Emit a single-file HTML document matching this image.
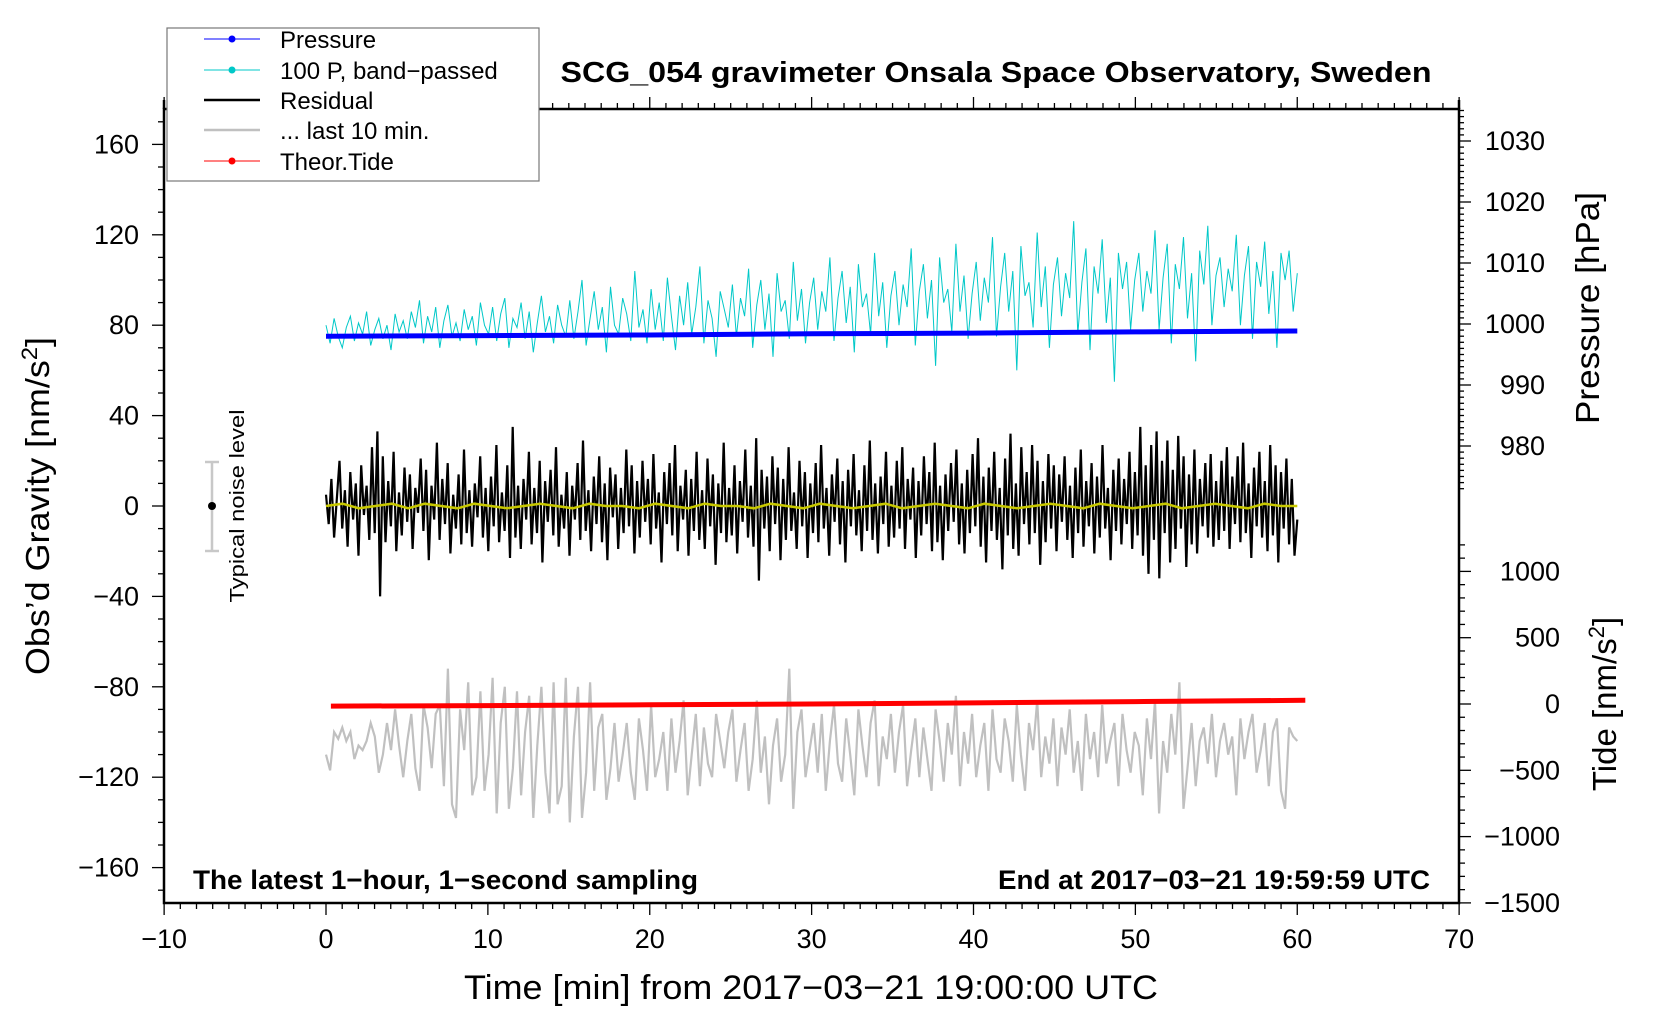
<!DOCTYPE html>
<html><head><meta charset="utf-8"><style>
html,body{margin:0;padding:0;background:#fff;}
svg{display:block;font-family:"Liberation Sans",Arial,sans-serif;}
</style></head><body>
<svg id="chart" width="1660" height="1020" viewBox="0 0 1660 1020" xmlns="http://www.w3.org/2000/svg">
<rect x="0" y="0" width="1660" height="1020" fill="#fff"/>
<g id="plot"></g>
<g id="axes"></g>
<text x="996" y="82" text-anchor="middle" font-size="29" font-weight="bold" textLength="871" lengthAdjust="spacingAndGlyphs">SCG_054 gravimeter Onsala Space Observatory, Sweden</text>
<text transform="translate(49,506) rotate(-90)" text-anchor="middle" font-size="33" textLength="338" lengthAdjust="spacingAndGlyphs">Obs’d Gravity [nm/s<tspan font-size="22" dy="-12">2</tspan><tspan dy="12">]</tspan></text>
<text transform="translate(1599,308) rotate(-90)" text-anchor="middle" font-size="33" textLength="232" lengthAdjust="spacingAndGlyphs">Pressure [hPa]</text>
<text transform="translate(1616,704) rotate(-90)" text-anchor="middle" font-size="33">Tide [nm/s<tspan font-size="22" dy="-12">2</tspan><tspan dy="12">]</tspan></text>
<text x="811" y="999" text-anchor="middle" font-size="34" textLength="694" lengthAdjust="spacingAndGlyphs">Time [min] from 2017−03−21 19:00:00 UTC</text>
<text x="193" y="889" font-size="27" font-weight="bold" textLength="505" lengthAdjust="spacingAndGlyphs">The latest 1−hour, 1−second sampling</text>
<text x="998" y="889" font-size="27" font-weight="bold" textLength="432" lengthAdjust="spacingAndGlyphs">End at 2017−03−21 19:59:59 UTC</text>
<g>
<line x1="212" y1="462" x2="212" y2="551" stroke="#c8c8c8" stroke-width="2.5"/>
<line x1="205" y1="462" x2="219" y2="462" stroke="#c8c8c8" stroke-width="2.5"/>
<line x1="205" y1="551" x2="219" y2="551" stroke="#c8c8c8" stroke-width="2.5"/>
<circle cx="212" cy="506" r="4" fill="#000"/>
<text transform="translate(244,506) rotate(-90)" text-anchor="middle" font-size="20" textLength="193" lengthAdjust="spacingAndGlyphs">Typical noise level</text>
</g>
<g id="legend">
<rect x="167" y="28" width="372" height="153" fill="#fff" stroke="#777" stroke-width="1.2"/>
<g><line x1="204" y1="39" x2="260" y2="39" stroke="#0000ff" stroke-width="1"/><circle cx="232" cy="39" r="3.5" fill="#0000ff"/><text x="280" y="48" font-size="24">Pressure</text></g>
<g><line x1="204" y1="70" x2="260" y2="70" stroke="#00c8c8" stroke-width="1"/><circle cx="232" cy="70" r="3.5" fill="#00c8c8"/><text x="280" y="79" font-size="24">100 P, band−passed</text></g>
<g><line x1="204" y1="100" x2="260" y2="100" stroke="#000" stroke-width="2.5"/><text x="280" y="109" font-size="24">Residual</text></g>
<g><line x1="204" y1="130" x2="260" y2="130" stroke="#c0c0c0" stroke-width="2.5"/><text x="280" y="139" font-size="24">... last 10 min.</text></g>
<g><line x1="204" y1="161" x2="260" y2="161" stroke="#ff0000" stroke-width="1"/><circle cx="232" cy="161" r="3.5" fill="#ff0000"/><text x="280" y="170" font-size="24">Theor.Tide</text></g>
</g>
</svg>
<script>
// ---- data ----
const cyanValues = [
80,72,83,75,70,79,84,73,81,76,86,71,78,83,74,80,69,85,77,82,
74,86,79,91,72,84,77,88,70,82,89,75,81,73,87,78,84,71,90,80,
76,88,73,85,92,70,83,79,90,74,86,68,81,93,77,84,72,89,80,75,
91,74,86,100,71,83,95,78,88,68,97,80,76,92,85,73,104,79,87,72,
96,78,90,73,101,84,69,93,80,99,76,88,106,72,91,83,66,95,87,79,
98,75,92,84,105,70,89,100,78,94,66,103,86,91,74,108,82,96,72,90,
101,78,95,86,110,73,92,104,81,97,68,107,88,94,76,112,84,99,70,93,
104,80,98,88,114,71,95,107,83,100,62,110,90,96,77,116,86,102,74,94,
108,82,101,90,119,75,97,112,86,104,60,115,93,99,79,121,88,106,70,98,
110,84,103,92,126,76,99,114,69,106,94,118,81,101,55,112,96,108,78,100,
112,86,104,94,122,78,101,116,72,107,96,119,83,103,64,113,98,124,80,102,
110,88,105,95,120,80,102,115,74,108,97,117,85,104,70,112,100,113,86,103];
const residualValues = [
5,-8,12,-14,3,20,-10,7,-18,15,-6,10,-22,18,-4,9,-15,26,-12,33,-40,22,-16,11,-9,24,-20,6,-13,17,
-7,14,-19,8,-3,21,-11,16,-24,9,-6,28,-15,12,-8,19,-21,5,-10,14,-17,25,-12,7,-18,10,-5,22,-14,8,
-20,13,-9,27,-16,6,-11,18,-23,35,-14,9,-19,12,-6,24,-17,8,-12,20,-25,11,-7,16,-13,26,-18,5,-10,15,
-22,9,-6,19,-15,29,-11,7,-20,13,-8,22,-16,10,-24,17,-5,14,-19,8,-12,25,-9,18,-21,11,-14,20,-7,12,
-17,23,-10,6,-25,15,-8,19,-13,27,-20,9,-6,16,-22,12,-11,24,-15,7,-19,21,-9,14,-26,10,-12,28,-16,8,
-13,18,-21,11,-7,25,-14,9,-18,30,-33,16,-10,13,-20,22,-8,17,-24,12,-15,26,-11,6,-19,20,-9,15,-23,10,
-12,19,-16,27,-10,8,-22,14,-7,21,-17,11,-25,16,-9,23,-13,7,-20,18,-11,29,-15,10,-21,13,-8,24,-18,9,
-14,20,-10,26,-19,12,-6,17,-23,11,-13,22,-8,15,-20,28,-16,9,-24,14,-11,19,-7,25,-17,10,-21,16,-12,23,
-9,30,-18,13,-25,17,-11,24,-15,8,-28,21,-13,32,-19,10,-22,26,-8,15,-17,27,-12,20,-26,11,-16,23,-10,18,
-20,14,-7,22,-15,9,-23,17,-12,25,-18,11,-9,19,-21,13,-14,27,-10,8,-24,16,-11,21,-17,12,-8,24,-19,15,
-13,35,-22,18,-30,27,-15,33,-32,20,-12,29,-25,16,-19,31,-10,22,-27,14,-17,25,-21,12,-9,19,-14,23,-18,11,
-15,20,-11,26,-19,13,-8,22,-16,28,-12,10,-23,17,-9,24,-14,11,-20,27,-13,18,-25,15,-10,21,-17,12,-22,-6];
const smoothValues = [0,1,-1,0,1,-1,1,0,-1,1,0,-1,0,1,0,-1,1,0,0,-1,1,0,-1,1,0,0,-1,1,0,-1,
1,0,-1,0,1,-1,0,1,0,-1,1,0,-1,0,1,0,-1,1,0,-1,0,1,-1,0,1,0,-1,1,0,0];
const lastTenValues = [
-110,-117,-100,-103,-98,-104,-100,-112,-106,-108,-104,-96,-102,-118,-110,-96,-108,-90,-106,-120,
-104,-92,-116,-126,-88,-98,-116,-92,-88,-124,-72,-132,-138,-90,-108,-78,-128,-120,-82,-126,
-110,-76,-136,-96,-80,-134,-116,-82,-128,-100,-84,-138,-106,-80,-118,-136,-78,-132,-124,-76,
-140,-102,-80,-138,-118,-78,-126,-98,-92,-130,-116,-96,-122,-110,-96,-118,-130,-94,-108,-126,
-88,-120,-112,-100,-126,-94,-118,-104,-86,-128,-110,-92,-124,-98,-114,-120,-92,-104,-116,-100,
-90,-122,-108,-96,-126,-112,-86,-118,-102,-132,-106,-94,-122,-110,-72,-134,-100,-90,-120,-108,
-96,-118,-92,-126,-104,-88,-114,-122,-94,-110,-128,-90,-106,-120,-96,-86,-124,-102,-112,-92,
-118,-100,-88,-124,-108,-94,-120,-98,-112,-126,-90,-104,-122,-96,-110,-84,-124,-100,-114,-92,
-120,-106,-96,-126,-90,-112,-118,-94,-104,-122,-88,-110,-126,-96,-108,-86,-120,-102,-114,-94,
-124,-98,-110,-90,-118,-104,-126,-92,-112,-100,-120,-88,-114,-104,-96,-124,-92,-108,-118,-100,
-106,-128,-94,-112,-86,-136,-104,-118,-92,-110,-78,-134,-116,-96,-124,-104,-98,-114,-92,-120,
-104,-96,-110,-102,-128,-94,-112,-100,-92,-118,-108,-96,-124,-100,-94,-126,-134,-98,-102,-104];
const pressureTimes = [0,10,20,30,40,50,60];
const pressureValues = [998.0,998.1,998.2,998.4,998.5,998.7,998.85];
const tideTimes = [0.3,10,20,30,40,50,60.5];
const tideValues = [-16,-12,-6,0,8,18,28];
const xTickLabels = [-10,0,10,20,30,40,50,60,70];
const yTickLabels = [-160,-120,-80,-40,0,40,80,120,160];
const pressureTickLabels = [980,990,1000,1010,1020,1030];
const tideTickLabels = [-1500,-1000,-500,0,500,1000];

// ---- scales ----
const X0=164,X1=1459,Y0=109,Y1=903;
function xS(t){return 326+t*16.1875;}
function yL(v){return 506-v*2.26;}
function yP(p){return 324-(p-1000)*6.1;}
function yT(v){return 704-v*0.1326;}
const NS="http://www.w3.org/2000/svg";
const plot=document.getElementById('plot'), axes=document.getElementById('axes');
function mk(tag,attrs,parent){const e=document.createElementNS(NS,tag);for(const k in attrs)e.setAttribute(k,attrs[k]);parent.appendChild(e);return e;}
function series(vals,t0,t1){const n=vals.length;return vals.map((v,i)=>[t0+(t1-t0)*i/(n-1),v]);}
function pts(arr,yf){return arr.map(p=>xS(p[0]).toFixed(1)+','+yf(p[1]).toFixed(1)).join(' ');}

let e;
e=mk('polyline',{points:pts(series(cyanValues,0,60),yL),fill:'none',stroke:'#00c8c8','stroke-width':1},plot);


e=mk('polyline',{points:pts(pressureTimes.map((t,i)=>[t,pressureValues[i]]),yP),fill:'none',stroke:'#0000ff','stroke-width':5},plot);


e=mk('polyline',{points:pts(series(residualValues,0,60),yL),fill:'none',stroke:'#000','stroke-width':2.2,'stroke-linejoin':'bevel'},plot);


e=mk('polyline',{points:pts(series(smoothValues,0,60),yL),fill:'none',stroke:'#c8c800','stroke-width':2.5},plot);


e=mk('polyline',{points:pts(series(lastTenValues,0,60),yL),fill:'none',stroke:'#c0c0c0','stroke-width':2.2},plot);


e=mk('polyline',{points:pts(tideTimes.map((t,i)=>[t,tideValues[i]]),yT),fill:'none',stroke:'#ff0000','stroke-width':5},plot);



// ---- axes ----
e=mk('rect',{x:X0,y:Y0,width:X1-X0,height:Y1-Y0,fill:'none',stroke:'#000','stroke-width':2.5},axes);


mk('line',{x1:X0,y1:100,x2:X0,y2:Y0,stroke:'#000','stroke-width':2.5},axes);
mk('line',{x1:X1,y1:100,x2:X1,y2:Y0,stroke:'#000','stroke-width':2.5},axes);
function tick(x1,y1,x2,y2){mk('line',{x1,y1,x2,y2,stroke:'#000','stroke-width':1.3},axes);}
function label(txt,x,y,anchor,name){const t=mk('text',{x,y,'text-anchor':anchor,'font-size':27},axes);t.textContent=String(txt).replace('-','−');

}
for(let t=-10;t<=70;t++){const x=xS(t),maj=t%10===0,L=maj?12:6;tick(x,Y1,x,Y1+L);tick(x,Y0,x,Y0-L);}
xTickLabels.forEach(v=>label(v,xS(v),948,'middle','x-tick-label'));
for(let v=-170;v<=170;v+=10){const y=yL(v),L=v%40===0?12:6;tick(X0,y,X0-L,y);}
yTickLabels.forEach(v=>label(v,139,yL(v)+9,'end','y-tick-label'));
for(let p=973;p<=1035;p++){const y=yP(p),L=p%10===0?12:5;tick(X1,y,X1+L,y);}
pressureTickLabels.forEach(v=>label(v,1545,yP(v)+9,'end','pressure-tick-label'));
for(let v=-1500;v<=1200;v+=100){const y=yT(v),L=v%500===0?12:6;tick(X1,y,X1+L,y);}
tideTickLabels.forEach(v=>label(v,1560,yT(v)+9,'end','tide-tick-label'));
</script>
</body></html>
